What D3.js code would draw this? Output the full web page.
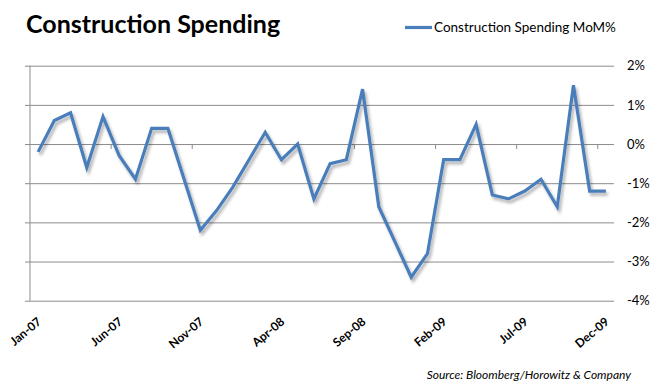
<!doctype html>
<html>
<head>
    <meta charset="UTF-8">
    <title>Construction Spending</title>
    <script src="https://d3js.org/d3.v7.min.js"></script>
    <style>
        body { margin: 0; background: #fff; }
        text { font-family: Lato, "Open Sans", sans-serif; }
    </style>
</head>
<body>
<script>
    // monthly construction spending, % change MoM, Jan-07 .. Dec-09
    var months = ["Jan-07","Feb-07","Mar-07","Apr-07","May-07","Jun-07","Jul-07","Aug-07","Sep-07","Oct-07","Nov-07","Dec-07",
                  "Jan-08","Feb-08","Mar-08","Apr-08","May-08","Jun-08","Jul-08","Aug-08","Sep-08","Oct-08","Nov-08","Dec-08",
                  "Jan-09","Feb-09","Mar-09","Apr-09","May-09","Jun-09","Jul-09","Aug-09","Sep-09","Oct-09","Nov-09","Dec-09"];
    var values = [-0.2, 0.6, 0.8, -0.6, 0.7, -0.3, -0.9, 0.4, 0.4, -0.9, -2.2, -1.7,
                  -1.1, -0.4, 0.3, -0.4, 0.0, -1.4, -0.5, -0.4, 1.4, -1.6, -2.5, -3.4,
                  -2.8, -0.4, -0.4, 0.5, -1.3, -1.4, -1.2, -0.9, -1.6, 1.5, -1.2, -1.2];
    var yTicks = [2, 1, 0, -1, -2, -3, -4];
    var labelEvery = 5;
    var seriesName = "Construction Spending MoM%";

    var w = 668, h = 392;
    // plot area edges (note: "top" is a reserved window prop, so use pad names)
    var padL = 30, padR = 614, padT = 65.7, padB = 300.7;

    var svg = d3.select("body").append("svg")
        .attr("width", w).attr("height", h);
    svg.append("rect").attr("width", w).attr("height", h).attr("fill", "#fff");

    var defs = svg.append("defs");
    defs.append("filter").attr("id", "shadow")
        .attr("x", "-10%").attr("y", "-10%").attr("width", "120%").attr("height", "130%")
        .append("feDropShadow")
        .attr("dx", 2).attr("dy", 3).attr("stdDeviation", 1.6)
        .attr("flood-color", "#000").attr("flood-opacity", 0.3);

    var x = d3.scaleBand().domain(months).range([padL, padR]);
    var y = d3.scaleLinear().domain([-4, 2]).range([padB, padT]);

    // gridlines + right-hand labels
    var yAxis = svg.append("g")
        .attr("transform", "translate(" + padR + ",0)")
        .call(d3.axisRight(y).tickValues(yTicks).tickSize(-(padR - padL + 5)).tickPadding(13)
            .tickFormat(function(d){ return d + "%"; }));
    yAxis.select(".domain").remove();
    yAxis.selectAll("line").attr("stroke", "#8c8c8c");
    yAxis.selectAll("text").attr("font-size", 13).attr("fill", "#000").attr("font-family", "Lato, sans-serif");

    // left axis line
    svg.append("line")
        .attr("x1", padL).attr("x2", padL).attr("y1", padT).attr("y2", padB)
        .attr("stroke", "#8c8c8c");

    // category tick marks sit on the 0% line
    var tickCats = months.filter(function(d,i){ return i > 0 && i % labelEvery == 0; });
    svg.selectAll(".ctick").data(tickCats).enter().append("line")
        .attr("class", "ctick")
        .attr("x1", function(d){ return x(d); })
        .attr("x2", function(d){ return x(d); })
        .attr("y1", y(0)).attr("y2", y(0) + 5)
        .attr("stroke", "#8c8c8c");

    // category labels, at the bottom
    var labelCats = months.filter(function(d,i){ return i % labelEvery == 0; });
    svg.selectAll(".clabel").data(labelCats).enter().append("text")
        .attr("class", "clabel")
        .attr("transform", function(d){
            return "translate(" + (x(d) + x.bandwidth()/2 + 4) + "," + 323 + ") rotate(-40)";
        })
        .attr("text-anchor", "end")
        .attr("font-size", 12)
        .attr("font-weight", "bold")
        .text(function(d){ return d; });

    // the series
    var line = d3.line()
        .x(function(d,i){ return x(months[i]) + x.bandwidth()/2; })
        .y(function(d){ return y(d); });
    svg.append("path")
        .datum(values)
        .attr("d", line)
        .attr("fill", "none")
        .attr("stroke", "#4a7ebb")
        .attr("stroke-width", 3.2)
        .attr("stroke-linejoin", "miter")
        .attr("filter", "url(#shadow)");

    // title
    svg.append("text")
        .attr("x", 26).attr("y", 33)
        .attr("font-size", 25)
        .attr("font-weight", "bold")
        .text("Construction Spending");

    // legend
    svg.append("line")
        .attr("x1", 405).attr("x2", 432).attr("y1", 27.5).attr("y2", 27.5)
        .attr("stroke", "#4a7ebb").attr("stroke-width", 3.2);
    svg.append("text")
        .attr("x", 434).attr("y", 32)
        .attr("font-size", 13.5)
        .text(seriesName);

    // source
    svg.append("text")
        .attr("x", 631).attr("y", 379)
        .attr("text-anchor", "end")
        .attr("font-size", 12)
        .attr("font-style", "italic")
        .text("Source: Bloomberg/Horowitz & Company");
</script>
</body>
</html>
